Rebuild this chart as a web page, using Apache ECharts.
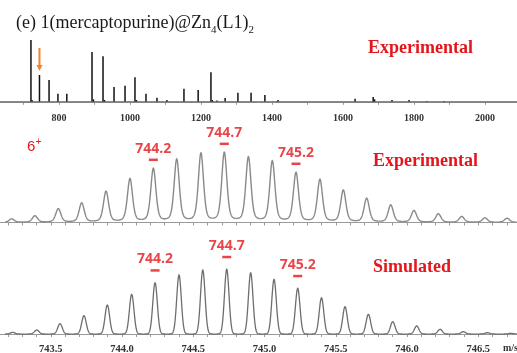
<!DOCTYPE html>
<html>
<head>
<meta charset="utf-8">
<script src="https://cdn.jsdelivr.net/npm/echarts@6/dist/echarts.min.js"></script>
<style>
  html, body { margin: 0; padding: 0; background: #fff; }
  #chart { width: 517px; height: 353px; }
</style>
</head>
<body>
<div id="chart"></div>
<script>
// ---- Survey spectrum (stick peaks): m/z and relative intensity ----
const surveyMz  = [721, 724, 745, 772, 797, 822, 893, 897, 924, 928, 955, 986, 1014, 1018, 1045, 1076, 1104,
                   1152, 1192, 1228, 1232, 1245, 1268, 1304, 1341, 1380, 1417, 1634, 1685, 1689, 1738, 1786, 1836, 1885];
const surveyInt = [100, 3, 43.5, 35.5, 13, 13, 80.6, 4, 74, 3, 24, 26, 40, 3, 13, 6.5, 3,
                   21, 19, 48, 3, 2, 6, 14.5, 14.5, 11, 3, 5, 8, 4, 3, 3, 1.5, 1.5];
const surveyTickLabels = [800, 1000, 1200, 1400, 1600, 1800, 2000];
const ion6PlusIndex = 2;   // the [cage+guest]6+ ion, flagged with an arrow

// ---- Isotope envelope of the 6+ ion ----
const expMz  = [743.226, 743.389, 743.553, 743.717, 743.888, 744.056, 744.220, 744.384, 744.554, 744.718, 744.887,
                745.055, 745.221, 745.389, 745.553, 745.717, 745.886, 746.049, 746.220, 746.384, 746.547, 746.702];
const expInt = [5, 9.4, 19.5, 27.7, 44.5, 62.4, 76.9, 90.3, 99, 100, 93.6,
                87.9, 71.1, 61.4, 46, 34.4, 24.9, 17, 12.3, 8.4, 6.5, 6];
const simMz  = [743.233, 743.402, 743.565, 743.733, 743.897, 744.068, 744.232, 744.400, 744.567, 744.735, 744.903,
                745.067, 745.233, 745.400, 745.565, 745.729, 745.900, 746.068, 746.232, 746.395, 746.564, 746.728];
const simInt = [2.6, 6.2, 15.9, 28.3, 44.8, 61.4, 79.3, 91.2, 98.9, 100, 94.7,
                84.5, 70.6, 56.1, 42.2, 30.4, 19, 12.4, 7.3, 3.6, 2, 1.1];
const labelledPeaks = [6, 9, 12];   // peaks annotated with their m/z
const isoTickLabels = ['743.5', '744.0', '744.5', '745.0', '745.5', '746.0', '746.5'];
const traceStart = 743.18, traceEnd = 746.77;

const RED = '#e3161b';

// Instrument line shapes
const expShape = d => 0.4 / (1 + (d / 0.022) ** 2) + 0.6 * Math.exp(-0.5 * (d / 0.018) ** 2);
const simShape = d => Math.exp(-0.5 * (d / 0.016) ** 2);

function traceSeries(axisIdx, mzArr, intArr, shape, color, width) {
  return {
    type: 'custom', xAxisIndex: axisIdx, yAxisIndex: axisIdx, silent: true, clip: false,
    data: mzArr.map((m, i) => [m, intArr[i]]),
    renderItem: (params, api) => {
      const i = params.dataIndex;
      const lo = i === 0 ? traceStart : (mzArr[i - 1] + mzArr[i]) / 2;
      const hi = i === mzArr.length - 1 ? traceEnd : (mzArr[i] + mzArr[i + 1]) / 2;
      const pts = [];
      const n = Math.max(2, Math.ceil((hi - lo) / 0.002));
      for (let k = 0; k <= n; k++) {
        const x = lo + (hi - lo) * k / n;
        let y = 0;
        for (let j = 0; j < mzArr.length; j++) y += intArr[j] * shape(x - mzArr[j]);
        pts.push(api.coord([x, y]));
      }
      return { type: 'polyline', shape: { points: pts }, style: { stroke: color, lineWidth: width, fill: null } };
    }
  };
}

function labelSeries(axisIdx, mzArr, intArr, offset) {
  return {
    type: 'scatter', xAxisIndex: axisIdx, yAxisIndex: axisIdx, silent: true, clip: false,
    symbol: 'rect', symbolSize: [9, 2.5], symbolOffset: [0, -offset],
    itemStyle: { color: RED },
    data: labelledPeaks.map(i => [mzArr[i], intArr[i]]),
    label: {
      show: true, position: 'top', distance: 3,
      formatter: p => p.value[0].toFixed(1),
      color: RED, fontFamily: 'Open Sans', fontWeight: 'bold', fontSize: 14
    }
  };
}

const isoAxisBase = {
  type: 'value', min: 743, max: 747, interval: 0.5,
  axisLine: { lineStyle: { color: '#9a9a9a', width: 1 } },
  axisTick: { show: true, length: 3, lineStyle: { color: '#9a9a9a' } },
  minorTick: { show: true, splitNumber: 5, length: 3, lineStyle: { color: '#9a9a9a' } },
  splitLine: { show: false }
};

const chart = echarts.init(document.getElementById('chart'), null, { renderer: 'canvas' });
chart.setOption({
  animation: false,
  backgroundColor: '#ffffff',
  grid: [
    { left: -12, right: -3.5, top: 37, height: 71, outerBoundsMode: 'none', containLabel: false },
    { left: -20.5, right: -32.5, top: 139.5, height: 88.5, outerBoundsMode: 'none', containLabel: false },
    { left: -20.5, right: -32.5, top: 256.4, height: 81.9, outerBoundsMode: 'none', containLabel: false }
  ],
  xAxis: [
    {
      gridIndex: 0, type: 'value', min: 600, max: 2100, interval: 100,
      axisLine: { lineStyle: { color: '#9a9a9a' } },
      axisTick: { show: true, length: 3, lineStyle: { color: '#9a9a9a' } },
      splitLine: { show: false },
      axisLabel: {
        margin: 5, color: '#333', fontFamily: 'Liberation Serif', fontWeight: 'bold', fontSize: 10,
        formatter: v => surveyTickLabels.includes(v) ? String(v) : ''
      }
    },
    Object.assign({ gridIndex: 1, axisLabel: { show: false } }, isoAxisBase),
    Object.assign({ gridIndex: 2, axisLabel: {
      margin: 5, color: '#333', fontFamily: 'Liberation Serif', fontWeight: 'bold', fontSize: 10.5,
      formatter: v => isoTickLabels.includes(v.toFixed(1)) ? v.toFixed(1) : ''
    } }, isoAxisBase)
  ],
  yAxis: [
    { gridIndex: 0, type: 'value', min: -10, max: 105, show: false },
    { gridIndex: 1, type: 'value', min: -8, max: 120, show: false },
    { gridIndex: 2, type: 'value', min: -6.6, max: 120, show: false }
  ],
  series: [
    // survey baseline
    {
      type: 'line', xAxisIndex: 0, yAxisIndex: 0, silent: true, symbol: 'none',
      lineStyle: { color: '#555', width: 1 },
      data: [[600, 0], [2100, 0]]
    },
    // survey sticks
    {
      type: 'custom', xAxisIndex: 0, yAxisIndex: 0, silent: true,
      data: surveyMz.map((m, i) => [m, surveyInt[i]]),
      renderItem: (params, api) => {
        const p0 = api.coord([api.value(0), 0]);
        const p1 = api.coord([api.value(0), api.value(1)]);
        return { type: 'line', shape: { x1: p0[0], y1: p0[1], x2: p1[0], y2: p1[1] },
                 style: { stroke: '#111', lineWidth: 1.5 } };
      }
    },
    // arrow marking the 6+ ion
    {
      type: 'custom', xAxisIndex: 0, yAxisIndex: 0, silent: true, clip: false,
      data: [[surveyMz[ion6PlusIndex], surveyInt[ion6PlusIndex]]],
      renderItem: (params, api) => {
        const p = api.coord([api.value(0), api.value(1)]);
        const tipY = p[1] - 4, topY = p[1] - 27, x = p[0];
        return { type: 'group', children: [
          { type: 'line', shape: { x1: x, y1: topY, x2: x, y2: tipY - 5 },
            style: { stroke: '#ef8427', lineWidth: 2 } },
          { type: 'polygon', shape: { points: [[x - 3, tipY - 6], [x + 3, tipY - 6], [x, tipY]] },
            style: { fill: '#ef8427' } }
        ] };
      }
    },
    traceSeries(1, expMz, expInt, expShape, '#8a8a8a', 1.4),
    traceSeries(2, simMz, simInt, simShape, '#6e6e6e', 1.3),
    labelSeries(1, expMz, expInt, 9.5),
    labelSeries(2, simMz, simInt, 12.3)
  ],
  graphic: [
    {
      type: 'text', x: 16, y: 10, silent: true,
      style: {
        text: '{m|(e) 1(mercaptopurine)@Zn}{s|4}{m|(L1)}{s|2}',
        rich: {
          m: { fontFamily: 'Liberation Serif', fontSize: 18, lineHeight: 26, fill: '#1a1a1a' },
          s: { fontFamily: 'Liberation Serif', fontSize: 11, lineHeight: 12, verticalAlign: 'bottom', fill: '#1a1a1a' }
        }
      }
    },
    { type: 'text', x: 368, y: 48, silent: true,
      style: { text: 'Experimental', fontFamily: 'Liberation Serif', fontWeight: 'bold', fontSize: 18,
               fill: RED, verticalAlign: 'middle' } },
    { type: 'text', x: 373, y: 161, silent: true,
      style: { text: 'Experimental', fontFamily: 'Liberation Serif', fontWeight: 'bold', fontSize: 18,
               fill: RED, verticalAlign: 'middle' } },
    { type: 'text', x: 373, y: 267, silent: true,
      style: { text: 'Simulated', fontFamily: 'Liberation Serif', fontWeight: 'bold', fontSize: 18,
               fill: RED, verticalAlign: 'middle' } },
    { type: 'text', x: 27, y: 146.5, silent: true,
      style: { text: '6', fontFamily: 'Liberation Sans', fontSize: 15, fill: RED, verticalAlign: 'middle' } },
    { type: 'text', x: 35.5, y: 142.5, silent: true,
      style: { text: '+', fontFamily: 'Liberation Sans', fontSize: 10, fill: RED, verticalAlign: 'middle' } },
    { type: 'text', x: 503, y: 348, silent: true,
      style: { text: 'm/s', fontFamily: 'Liberation Serif', fontWeight: 'bold', fontSize: 10,
               fill: '#333', verticalAlign: 'middle' } }
  ]
});
</script>
</body>
</html>
